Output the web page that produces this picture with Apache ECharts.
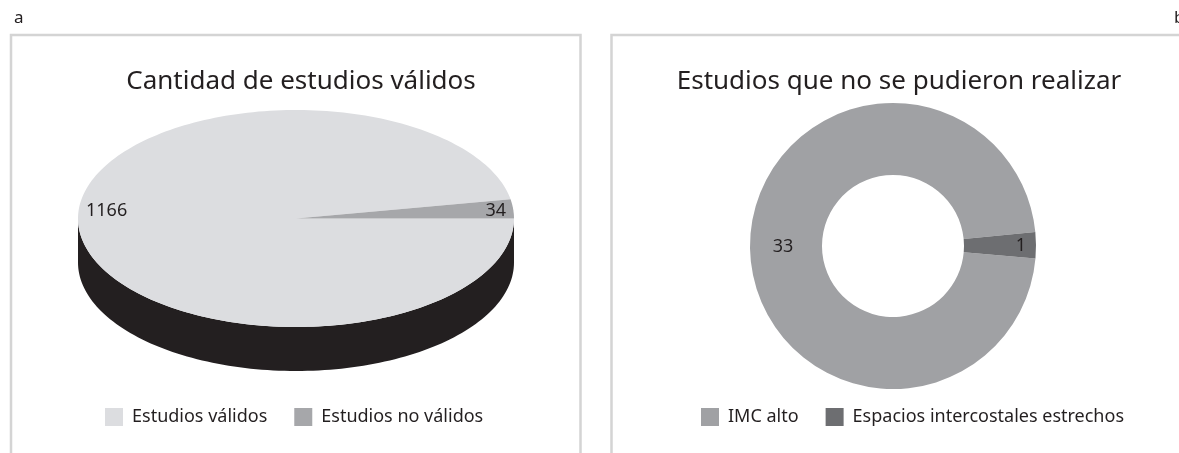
<!DOCTYPE html>
<html>
<head>
<meta charset="utf-8">
<title>Estudios</title>
<script src="https://cdn.jsdelivr.net/npm/echarts@6/dist/echarts.min.js"></script>
<style>html,body{margin:0;padding:0;background:#fff}</style>
</head>
<body>
<div id="main" style="width:1179px;height:453px;"></div>
<script>
// datos
var validCategories = ['Estudios válidos', 'Estudios no válidos'];
var validValues = [1166, 34];
var failedCategories = ['IMC alto', 'Espacios intercostales estrechos'];
var failedValues = [33, 1];

var validColors = ['#dcdde0', '#a6a7aa'];
var failedColors = ['#a0a1a4', '#6d6e71'];
var sideColor = '#231f20';
var textColor = '#231f20';
var fontFamily = '"Noto Sans", "Open Sans", sans-serif';
var depth = 44;   // alto del canto del pastel 3D, en px

var myChart = echarts.init(document.getElementById('main'));

// angulos de cada porcion, en sentido horario desde las 3 (como el pie de echarts)
var total = validValues.reduce(function (a, b) { return a + b; }, 0);
var slices = [];
var acc = 0;
for (var i = 0; i < validValues.length; i++) {
    var a0 = -acc / total * 2 * Math.PI;
    acc += validValues[i];
    var a1 = -acc / total * 2 * Math.PI;
    slices.push([a0, a1]);
}

function arcPoints(api, from, to, dy) {
    var pts = [];
    var n = Math.max(2, Math.ceil(Math.abs(to - from) / (Math.PI / 120)));
    for (var k = 0; k <= n; k++) {
        var t = from + (to - from) * k / n;
        var p = api.coord([Math.cos(t), Math.sin(t)]);
        pts.push([p[0], p[1] + (dy || 0)]);
    }
    return pts;
}

// canto frontal (mitad de abajo de la elipse)
function renderSide(params, api) {
    var s = slices[params.dataIndex];
    var hi = s[0], lo = s[1];
    var children = [];
    [[-Math.PI, 0], [-3 * Math.PI, -2 * Math.PI]].forEach(function (r) {
        var from = Math.max(lo, r[0]);
        var to = Math.min(hi, r[1]);
        if (to - from > 1e-6) {
            var top = arcPoints(api, from, to, 0);
            var bottom = arcPoints(api, from, to, depth).reverse();
            children.push({
                type: 'polygon',
                shape: { points: top.concat(bottom) },
                style: { fill: sideColor }
            });
        }
    });
    return { type: 'group', children: children };
}

function makeSliceRenderer(idx) {
    return function (params, api) {
        var s = slices[idx];
        var c = api.coord([0, 0]);
        var pts = [c].concat(arcPoints(api, s[0], s[1], 0));
        var mid = (s[0] + s[1]) / 2;
        var side = Math.cos(mid) >= 0 ? 1 : -1;
        var edge = api.coord([side, 0]);
        return {
            type: 'group',
            children: [{
                type: 'polygon',
                shape: { points: pts },
                style: { fill: validColors[idx] }
            }, {
                type: 'text',
                x: edge[0] - side * 8,
                y: edge[1] - 8,
                z2: 10,
                style: {
                    text: String(api.value(2)),
                    fill: textColor,
                    fontSize: 18,
                    fontFamily: fontFamily,
                    align: side > 0 ? 'right' : 'left',
                    verticalAlign: 'middle'
                }
            }]
        };
    };
}

var series = [{
    name: 'canto',
    type: 'custom',
    coordinateSystem: 'cartesian2d',
    clip: false,
    silent: true,
    z: 1,
    renderItem: renderSide,
    encode: { x: 0, y: 1 },
    data: validValues.map(function (v) { return [0, 0, v]; })
}];

validCategories.forEach(function (name, idx) {
    series.push({
        name: name,
        type: 'custom',
        coordinateSystem: 'cartesian2d',
        clip: false,
        z: 2,
        itemStyle: { color: validColors[idx] },
        renderItem: makeSliceRenderer(idx),
        encode: { x: 0, y: 1 },
        data: [[0, 0, validValues[idx]]]
    });
});

series.push({
    name: 'Estudios que no se pudieron realizar',
    type: 'pie',
    center: [893, 246],
    radius: [71, 143],
    startAngle: -5,
    clockwise: true,
    avoidLabelOverlap: false,
    itemStyle: { borderWidth: 0 },
    label: {
        show: true,
        position: 'inside',
        formatter: '{c}',
        color: textColor,
        fontSize: 18,
        fontFamily: fontFamily
    },
    labelLine: { show: false },
    emphasis: { disabled: true },
    data: failedCategories.map(function (name, idx) {
        var item = { name: name, value: failedValues[idx], itemStyle: { color: failedColors[idx] } };
        // la porcion chica lleva su etiqueta hacia el borde
        if (failedValues[idx] / 34 < 0.1) item.label = { padding: [0, 0, 0, 36] };
        return item;
    })
});

var legendText = { fontSize: 18, color: textColor, fontFamily: fontFamily, padding: [0, 0, 0, 4] };
var titleText = { fontSize: 26, fontWeight: 'normal', color: textColor, fontFamily: fontFamily };
var markText = { fontSize: 17, fontWeight: 'normal', color: textColor, fontFamily: fontFamily };

option = {
    animation: false,
    title: [
        { text: 'a', left: 9, top: 5, textStyle: markText },
        { text: 'b', left: 1169, top: 5, textStyle: markText },
        { text: 'Cantidad de estudios válidos', left: 296, textAlign: 'center', top: 64, textStyle: titleText },
        { text: 'Estudios que no se pudieron realizar', left: 894, textAlign: 'center', top: 64, textStyle: titleText }
    ],
    legend: [{
        data: validCategories,
        left: 105,
        top: 408,
        padding: 0,
        icon: 'rect',
        itemWidth: 18,
        itemHeight: 18,
        itemGap: 27,
        selectedMode: false,
        textStyle: legendText
    }, {
        data: failedCategories,
        left: 701,
        top: 408,
        padding: 0,
        icon: 'rect',
        itemWidth: 18,
        itemHeight: 18,
        itemGap: 27,
        selectedMode: false,
        textStyle: legendText
    }],
    grid: { left: 78, top: 110, width: 436, height: 217 },
    xAxis: { type: 'value', min: -1, max: 1, show: false },
    yAxis: { type: 'value', min: -1, max: 1, show: false },
    graphic: [{
        type: 'rect',
        silent: true,
        shape: { x: 11, y: 35, width: 569.5, height: 500 },
        style: { fill: 'none', stroke: '#d4d4d4', lineWidth: 2.5 }
    }, {
        type: 'rect',
        silent: true,
        shape: { x: 611.5, y: 35, width: 700, height: 500 },
        style: { fill: 'none', stroke: '#d4d4d4', lineWidth: 2.5 }
    }],
    series: series
};

myChart.setOption(option);
</script>
</body>
</html>
